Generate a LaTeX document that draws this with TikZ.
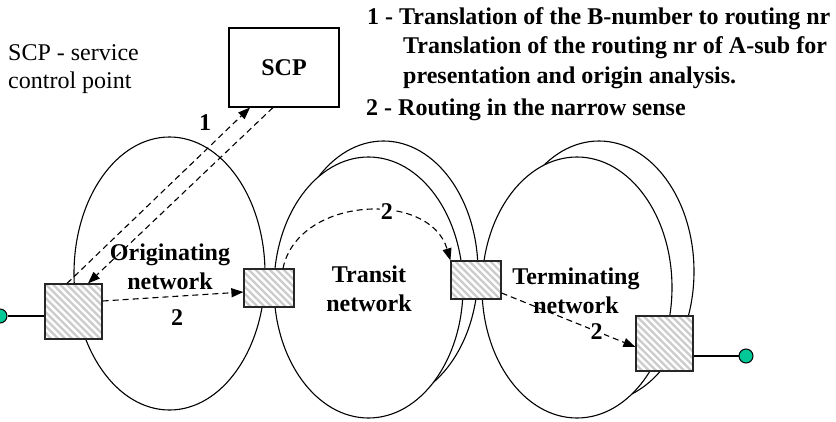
\documentclass[tikz,border=0pt]{standalone}
\usepackage{fontspec}
\setmainfont{Liberation Serif}
\usetikzlibrary{arrows.meta,calc}
\definecolor{termgreen}{RGB}{0,200,150}
\begin{document}
\begin{tikzpicture}[x=1pt,y=-1pt,
  net/.style={draw=black, line width=1.1pt, fill=white},
  hatchbox/.style={draw=black!85, line width=1.2pt, fill=white, inner sep=0pt,
    path picture={\foreach \i in {-112,-105,...,112}{\draw[gray!40, line width=2.2pt] ([xshift=\i pt]path picture bounding box.north) -- ++(112pt,-112pt);}}},
  lbl/.style={font=\fontsize{24}{29}\selectfont\bfseries, inner sep=1pt},
  plain/.style={font=\fontsize{24}{29}\selectfont, inner sep=0pt},
  dasharrow/.style={draw, line width=1.1pt, dash pattern=on 6pt off 4pt, -{Triangle[length=12pt,width=9pt]}},
  wire/.style={line width=1.1pt},
  endpt/.style={circle, draw, fill=termgreen, minimum size=14pt, inner sep=0pt, line width=1pt}]
\useasboundingbox (0,0) rectangle (836,421);
% networks
\draw[net] (169.5,273.5) ellipse [x radius=95.5, y radius=136.5];
\draw[net] (383.5,271.5) ellipse [x radius=94.5, y radius=130.5];
\draw[net] (368.5,287.5) ellipse [x radius=94.5, y radius=130.5];
\draw[net] (599,271.5) ellipse [x radius=95, y radius=130.5];
\draw[net] (577,287.5) ellipse [x radius=95, y radius=130.5];
% network labels
\node[lbl, align=center] (orig) at (170,267) {Originating\\network};
\node[lbl, align=center] (trans) at (369,289) {Transit\\network};
\node[lbl, align=center] (term) at (576,291) {Terminating\\network};
% SCP
\node[draw, line width=1.1pt, fill=white, minimum width=110pt, minimum height=79pt, lbl] (scp) at (284,67.5) {SCP};
\node[plain, anchor=base west] (scpa) at (8,60) {SCP - service};
\node[plain, anchor=base west] (scpb) at (8,88) {control point};
% legend
\node[lbl, inner sep=0pt, anchor=base west] (lg1) at (367,24) {1 - Translation of the B-number to routing nr};
\node[lbl, inner sep=0pt, anchor=base west] (lg2) at (403,53) {Translation of the routing nr of A-sub for};
\node[lbl, inner sep=0pt, anchor=base west] (lg3) at (403,83) {presentation and origin analysis.};
\node[lbl, inner sep=0pt, anchor=base west] (lg4) at (366,115) {2 - Routing in the narrow sense};
% exchanges
\node[hatchbox, minimum width=57pt, minimum height=55pt] (sq1) at (73.5,311.5) {};
\node[hatchbox, minimum width=50pt, minimum height=38pt] (sq2) at (269,288) {};
\node[hatchbox, minimum width=50pt, minimum height=38pt] (sq3) at (476,280) {};
\node[hatchbox, minimum width=57pt, minimum height=55pt] (sq4) at (664.5,343.5) {};
% subscribers
\node[endpt] (subA) at (0,316) {};
\node[endpt] (subB) at (746,356) {};
\draw[wire] (subA) -- (subA -| sq1.west);
\draw[wire] (subB) -- (subB -| sq4.east);
% signalling
\draw[dasharrow] ($(sq1.north)+(-6.5,0)$) -- ($(scp.south)+(-34,0)$);
\draw[dasharrow] ($(scp.south)+(-11,0)$) -- ($(sq1.north)+(14.5,0)$);
\node[lbl] (l1) at (205,123) {1};
\draw[dasharrow] ($(sq1.east)+(0,-10.5)$) -- ($(sq2.west)+(0,4)$);
\node[lbl] (l2a) at (177,318) {2};
\draw[dasharrow] ($(sq2.north)+(14,0)$) .. controls (298,196) and (430,190) .. (sq3.north west) node[pos=0.6, fill=white, lbl] (l2b) {2};
\draw[dasharrow] ($(sq3.east)+(0,13)$) -- ($(sq4.west)+(0,3.5)$) node[pos=0.71, fill=white, lbl] (l2c) {2};
\end{tikzpicture}
\end{document}
